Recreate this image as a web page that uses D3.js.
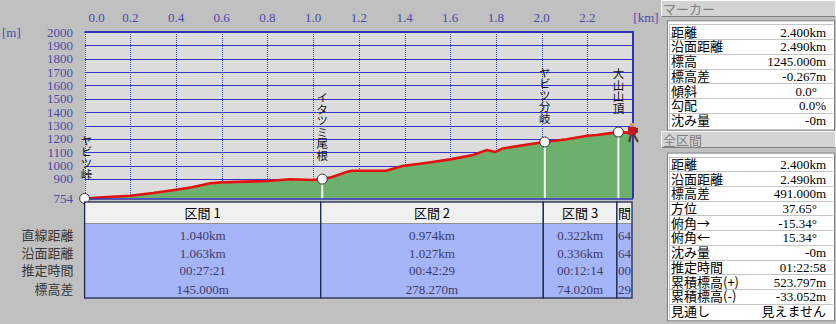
<!DOCTYPE html>
<html>
<head>
<meta charset="utf-8">
<script src="https://cdn.jsdelivr.net/npm/d3@7"></script>
<style>
  body { margin: 0; background: #c0c0c0; }
  svg { display: block; }
  .vname { writing-mode: vertical-rl; text-orientation: upright; }
</style>
</head>
<body>
<svg id="viz" width="836" height="324"></svg>
<script>
// profile data
var distTicks = [0.0, 0.2, 0.4, 0.6, 0.8, 1.0, 1.2, 1.4, 1.6, 1.8, 2.0, 2.2];
var elevTicks = [754, 900, 1000, 1100, 1200, 1300, 1400, 1500, 1600, 1700, 1800, 1900, 2000];
var profileKm = [0, 0.1, 0.2, 0.3, 0.4, 0.47, 0.55, 0.6, 0.7, 0.8, 0.9, 1.0, 1.04, 1.08, 1.15, 1.17, 1.32, 1.39, 1.5, 1.6, 1.7, 1.76, 1.796, 1.83, 1.96, 2.014, 2.11, 2.2, 2.24, 2.336, 2.4];
var profileElev = [754, 765, 775, 795, 820, 838, 868, 875, 880, 885, 898, 892, 899, 913, 955, 962, 962, 997, 1022, 1047, 1080, 1117, 1102, 1129, 1164, 1177, 1197, 1224, 1229, 1251, 1245];

var markerKm = [0, 1.04, 2.014, 2.336];
var markerElev = [754, 899, 1177.27, 1251.29];
var markerNames = ["ヤビツ峠", "イタツミ尾根", "ヤビツ分岐", "大山山頂"];

// section table
var sectionNames = ["区間 1", "区間 2", "区間 3", "間"];
var sectionEnds = [1.04, 2.014, 2.336, 2.4];
var rowLabels = ["直線距離", "沿面距離", "推定時間", "標高差"];
var section1 = ["1.040km", "1.063km", "00:27:21", "145.000m"];
var section2 = ["0.974km", "1.027km", "00:42:29", "278.270m"];
var section3 = ["0.322km", "0.336km", "00:12:14", "74.020m"];
var section4 = ["64", "64", "00", "29"];

// side panel
var markerLabels = ["距離", "沿面距離", "標高", "標高差", "傾斜", "勾配", "沈み量"];
var markerValues = ["2.400km", "2.490km", "1245.000m", "-0.267m", "0.0°", "0.0%", "-0m"];
var totalLabels = ["距離", "沿面距離", "標高差", "方位", "俯角→", "俯角←", "沈み量", "推定時間", "累積標高(+)", "累積標高(-)", "見通し"];
var totalValues = ["2.400km", "2.490km", "491.000m", "37.65°", "-15.34°", "15.34°", "-0m", "01:22:58", "523.797m", "-33.052m", "見えません"];

var jp = "'Noto Sans CJK JP', sans-serif";
var num = "'Liberation Serif', serif";

var svg = d3.select("#viz");

var plot = { left: 84.6, right: 633, top: 32, bottom: 198.5 };

var x = d3.scaleLinear().domain([0, 2.4]).range([plot.left, plot.right]);
var y = d3.scaleLinear().domain([754, 2000]).range([plot.bottom, plot.top]);

// plot background
svg.append("rect")
	.attr("x", plot.left).attr("y", plot.top)
	.attr("width", plot.right - plot.left).attr("height", plot.bottom - plot.top)
	.attr("fill", "#dcdcdc");

// horizontal grid
svg.append("g").selectAll("line")
	.data(elevTicks.filter(function(d) { return d > 754; }))
	.join("line")
	.attr("x1", plot.left).attr("x2", plot.right)
	.attr("y1", function(d) { return Math.round(y(d)) + 0.5; })
	.attr("y2", function(d) { return Math.round(y(d)) + 0.5; })
	.attr("stroke", "#3434c8").attr("stroke-width", 1);

// vertical dotted grid
svg.append("g").selectAll("line")
	.data(distTicks)
	.join("line")
	.attr("x1", function(d) { return Math.round(x(d)) + 0.5; })
	.attr("x2", function(d) { return Math.round(x(d)) + 0.5; })
	.attr("y1", plot.top).attr("y2", plot.bottom)
	.attr("stroke", "#3a3ac8").attr("stroke-width", 1)
	.attr("stroke-dasharray", "1,1");

// terrain
var pts = profileKm.map(function(d, i) { return [d, profileElev[i]]; });
var area = d3.area()
	.x(function(d) { return x(d[0]); })
	.y0(plot.bottom)
	.y1(function(d) { return y(d[1]); });
var line = d3.line()
	.x(function(d) { return x(d[0]); })
	.y(function(d) { return y(d[1]); });

svg.append("path").datum(pts).attr("d", area).attr("fill", "#6cb06c");

// marker stems
svg.append("g").selectAll("line")
	.data(markerKm)
	.join("line")
	.attr("x1", function(d) { return x(d); })
	.attr("x2", function(d) { return x(d); })
	.attr("y1", function(d, i) { return y(markerElev[i]); })
	.attr("y2", plot.bottom)
	.attr("stroke", "#f4f4f4").attr("stroke-width", 2);

svg.append("path").datum(pts).attr("d", line)
	.attr("fill", "none").attr("stroke", "#e41010").attr("stroke-width", 2.6);

// frame
svg.append("line")
	.attr("x1", plot.left).attr("x2", plot.right + 1)
	.attr("y1", plot.top).attr("y2", plot.top)
	.attr("stroke", "#3232b4").attr("stroke-width", 2);
svg.append("line")
	.attr("x1", plot.right).attr("x2", plot.right)
	.attr("y1", plot.top).attr("y2", plot.bottom)
	.attr("stroke", "#3232b4").attr("stroke-width", 2);
svg.append("line")
	.attr("x1", plot.left).attr("x2", plot.right)
	.attr("y1", plot.bottom + 0.5).attr("y2", plot.bottom + 0.5)
	.attr("stroke", "#3232b4").attr("stroke-width", 1.5);

// marker circles
svg.append("g").selectAll("circle")
	.data(markerKm)
	.join("circle")
	.attr("cx", function(d) { return x(d); })
	.attr("cy", function(d, i) { return y(markerElev[i]); })
	.attr("r", 5)
	.attr("fill", "#ffffff").attr("stroke", "#333333").attr("stroke-width", 1);

// vertical marker names, one text each, written top to bottom
svg.append("g").selectAll("text")
	.data(markerNames)
	.join("text")
	.attr("class", "vname")
	.attr("x", function(d, i) { return Math.max(x(markerKm[i]), 86.5); })
	.attr("y", function(d, i) { return y(markerElev[i]) - 18; })
	.attr("text-anchor", "end")
	.attr("font-family", jp).attr("font-size", 11.5)
	.attr("fill", "#111")
	.text(function(d) { return d; });

// hiker icon
var hk = { x: x(2.4), y: y(1245) };
var hiker = svg.append("g").attr("transform", "translate(" + hk.x + "," + hk.y + ")");
hiker.append("rect").attr("x", -3).attr("y", -10).attr("width", 4).attr("height", 4).attr("fill", "#d89868");
hiker.append("rect").attr("x", -5).attr("y", -6).attr("width", 8).attr("height", 8).attr("fill", "#c41c1c");
hiker.append("rect").attr("x", 2).attr("y", -5).attr("width", 3).attr("height", 5).attr("fill", "#8a2a1a");
hiker.append("line").attr("x1", -2).attr("y1", 2).attr("x2", -4).attr("y2", 9).attr("stroke", "#4a3a20").attr("stroke-width", 2);
hiker.append("line").attr("x1", 1).attr("y1", 2).attr("x2", 5).attr("y2", 9).attr("stroke", "#4a3a20").attr("stroke-width", 2);

// axis labels
svg.append("g").selectAll("text")
	.data(distTicks)
	.join("text")
	.attr("x", function(d) { return d === 0 ? x(d) + 12 : x(d); })
	.attr("y", 21.5)
	.attr("text-anchor", "middle")
	.attr("font-family", num).attr("font-size", 13)
	.attr("fill", "#4a4aa8")
	.text(function(d) { return d.toFixed(1); });
svg.append("text").attr("x", 646).attr("y", 21.5).attr("text-anchor", "middle")
	.attr("font-family", num).attr("font-size", 13).attr("fill", "#4a4aa8").text("[km]");

svg.append("g").selectAll("text")
	.data(elevTicks)
	.join("text")
	.attr("x", 73)
	.attr("y", function(d) { return y(d) + 4.5; })
	.attr("text-anchor", "end")
	.attr("font-family", num).attr("font-size", 13)
	.attr("fill", "#4a4aa8")
	.text(function(d) { return d; });
svg.append("text").attr("x", 2).attr("y", 37).attr("font-family", num).attr("font-size", 13)
	.attr("fill", "#4a4aa8").text("[m]");

// section table
var sectionValues = [section1, section2, section3, section4];
var tb = { top: 202, head: 224, bottom: 298 };
var rowY = [235.7, 253.3, 270.6, 289];
var colStart = [0].concat(sectionEnds.slice(0, 3));

sectionNames.forEach(function(name, i) {
	var x0 = i === 0 ? plot.left : x(colStart[i]) - 1.5;
	var x1 = i === 3 ? plot.right - 1 : x(sectionEnds[i]) - 1.5;
	var col = svg.append("g");
	col.append("rect").attr("x", x0).attr("y", tb.top).attr("width", x1 - x0).attr("height", tb.head - tb.top)
		.attr("fill", "#f0f0f0");
	col.append("line").attr("x1", x0).attr("x2", x1).attr("y1", tb.head - 0.5).attr("y2", tb.head - 0.5)
		.attr("stroke", "#909090");
	col.append("rect").attr("x", x0).attr("y", tb.head).attr("width", x1 - x0).attr("height", tb.bottom - tb.head)
		.attr("fill", "#a6b4f8");
	var tx = i === 3 ? x0 + 1 : (x0 + x1) / 2;
	var anchor = i === 3 ? "start" : "middle";
	col.append("text").attr("x", tx).attr("y", 218).attr("text-anchor", anchor)
		.attr("font-family", jp).attr("font-size", 13).attr("fill", "#000").text(name);
	col.selectAll("text.v").data(sectionValues[i]).join("text").attr("class", "v")
		.attr("x", tx).attr("y", function(d, j) { return rowY[j] + 4.5; })
		.attr("text-anchor", anchor)
		.attr("font-family", num).attr("font-size", 13).attr("fill", "#3c3c6c")
		.text(function(d) { return d; });
	col.append("rect").attr("x", x0).attr("y", tb.top).attr("width", x1 - x0).attr("height", tb.bottom - tb.top)
		.attr("fill", "none").attr("stroke", "#1c2850").attr("stroke-width", 1.3);
});

svg.append("g").selectAll("text")
	.data(rowLabels)
	.join("text")
	.attr("x", 73.5)
	.attr("y", function(d, i) { return rowY[i] + 4.5; })
	.attr("text-anchor", "end")
	.attr("font-family", jp).attr("font-size", 13)
	.attr("fill", "#383838")
	.text(function(d) { return d; });

// side panel
function drawPanel(title, hy, labels, values, top, rowH) {
	var g = svg.append("g");
	g.append("rect").attr("x", 661.5).attr("y", hy + 0.5).attr("width", 174).attr("height", 16)
		.attr("fill", "#d4d4d4").attr("stroke", "#f8f8f8");
	g.append("line").attr("x1", 661.5).attr("x2", 835.5).attr("y1", hy + 16.5).attr("y2", hy + 16.5).attr("stroke", "#808080");
	g.append("text").attr("x", 663).attr("y", hy + 14).attr("font-family", jp).attr("font-size", 13)
		.attr("fill", "#808080").text(title);

	var h = labels.length * rowH;
	g.append("rect").attr("x", 667.5).attr("y", top - 3.5).attr("width", 167).attr("height", h + 6)
		.attr("fill", "#ffffff").attr("stroke", "#808080");
	g.selectAll("line.r").data(labels).join("line").attr("class", "r")
		.attr("x1", 669).attr("x2", 833)
		.attr("y1", function(d, i) { return Math.round(top + i * rowH) + 0.5; })
		.attr("y2", function(d, i) { return Math.round(top + i * rowH) + 0.5; })
		.attr("stroke", "#c4c4c4");
	g.append("line").attr("x1", 669.5).attr("x2", 669.5).attr("y1", top).attr("y2", top + h)
		.attr("stroke", "#c4c4c4");
	g.selectAll("text.l").data(labels).join("text").attr("class", "l")
		.attr("x", 671).attr("y", function(d, i) { return top + i * rowH + rowH / 2 + 5; })
		.attr("font-family", jp).attr("font-size", 13).attr("fill", "#000")
		.text(function(d) { return d; });
	g.selectAll("text.v").data(values).join("text").attr("class", "v")
		.attr("x", function(d) { return d.slice(-1) === "°" ? 817 : 826; })
		.attr("y", function(d, i) { return top + i * rowH + rowH / 2 + 5; })
		.attr("text-anchor", "end")
		.attr("font-family", function(d) { return /[ぁ-ん]/.test(d) ? jp : num; })
		.attr("font-size", 13).attr("fill", "#000")
		.text(function(d) { return d; });
}

drawPanel("マーカー", 0, markerLabels, markerValues, 24.3, 14.75);
drawPanel("全区間", 131, totalLabels, totalValues, 156.6, 14.7);
</script>
</body>
</html>
